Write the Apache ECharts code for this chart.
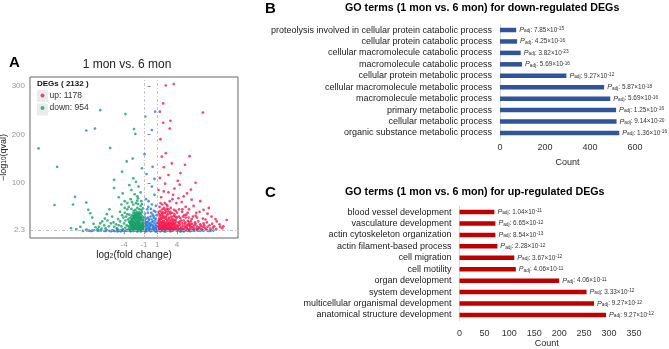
<!DOCTYPE html>
<html>
<head>
<meta charset="utf-8">
<script src="https://cdn.jsdelivr.net/npm/echarts@6/dist/echarts.min.js"></script>
<style>
html, body { margin: 0; padding: 0; background: #fff; }
#chart { width: 669px; height: 349px; }
</style>
</head>
<body>
<div id="chart"></div>
<script>
var FONT = 'Liberation Sans, Arial, sans-serif';

/* panel A: volcano points [log2FC, -log10(qval)] */
var upCount = 1178;
var downCount = 954;
var degTotal = 2132;

var upPts = [
    [2.3,301],[3.5,304],[1.4,247],[1.9,264],[3.0,228],[2.9,212],[1.9,224],[7.9,245],[5.9,155],[2.3,161],
    [1.7,154],[5.2,137],[2.7,116],[4.5,120],[1.2,85],[5.5,78],[8.0,44],[10.0,20],[11.5,23],[1.4,110],
    [2.2,98],[4.4,96],[3.6,88],[6.1,86],[2.7,80],[5.0,72],[1.6,70],[3.3,66],[7.5,62],[4.7,60],
    [2.4,55],[6.5,52],[8.8,48],[1.8,45],[3.8,42],[7.4,40],[5.6,38],[9.2,30],[8.5,18],[9.6,10],
    [10.8,6],[7.9,26],[6.8,32],[8.1,12],[9.0,5],[6.2,65],[4.1,104],[2.0,132],[3.2,140],[1.5,190],
    [6.8,100],[7.2,20],[6.0,14],[5.3,28],[4.8,45],[3.9,58],[10.4,14],[11.0,10],[9.8,25],[8.6,36],
    [1.1,4],[1.2,10],[1.2,22],[1.3,6],[1.3,15],[1.4,31],[1.4,3],[1.5,12],[1.5,42],[1.6,7],
    [1.6,19],[1.7,4],[1.7,26],[1.8,10],[1.8,36],[1.9,14],[1.9,5],[2.0,21],[2.0,48],[2.1,8],
    [2.1,30],[2.2,4],[2.2,16],[2.3,11],[2.3,40],[2.4,6],[2.4,24],[2.5,14],[2.5,33],[2.6,4],
    [2.6,19],[2.7,9],[2.7,45],[2.8,13],[2.8,28],[2.9,5],[2.9,21],[3.0,10],[3.0,36],[3.1,16],
    [3.2,6],[3.2,26],[3.3,12],[3.4,4],[3.4,20],[3.5,31],[3.6,9],[3.7,15],[3.8,5],[3.8,24],
    [3.9,11],[4.0,38],[4.1,7],[4.2,18],[4.3,4],[4.4,13],[4.5,27],[4.6,8],[4.8,16],[4.9,5],
    [5.0,22],[5.2,10],[5.4,34],[5.5,6],[5.7,14],[5.9,4],[6.1,20],[6.3,9],[6.6,12],[6.9,5],
    [7.3,8],[7.7,4],[8.2,7],[1.35,50],[1.75,55],[2.15,58],[2.55,52],[3.05,48],[3.55,44],[1.25,35],
    [1.65,38],[2.45,46],[2.85,3],[3.25,38],[3.75,30],[4.25,30],[4.75,40],[1.45,24],[1.95,28],[2.35,18],
    [2.75,16],[3.15,3],[3.65,22],[4.05,12],[4.45,20],[1.55,16],[2.05,12],[2.65,36],[3.45,14],[5.25,18],
    [5.75,28],[6.4,30],[1.15,18],[1.85,20],[2.25,26],
    [1.15,8],[1.25,13],[1.35,3],[1.35,20],[1.45,9],[1.55,5],[1.55,27],[1.65,12],[1.75,8],[1.75,17],
    [1.85,4],[1.85,31],[1.95,10],[2.05,6],[2.05,18],[2.15,13],[2.15,37],[2.25,8],[2.35,4],[2.35,29],
    [2.45,11],[2.55,7],[2.55,22],[2.65,14],[2.75,5],[2.75,26],[2.85,10],[2.95,16],[2.95,40],[3.05,7],
    [3.15,12],[3.15,30],[3.25,18],[3.35,8],[3.45,24],[3.55,5],[3.55,16],[3.65,11],[3.75,7],[3.85,19],
    [3.95,4],[3.95,28],[4.15,10],[4.35,16],[4.55,6],[4.65,22],[4.85,11],[5.05,4],[5.15,15],[5.45,9],
    [5.65,21],[5.85,11],[6.05,6],[6.25,15],[6.5,4],[6.7,18],[7.0,10],[7.5,14],[7.9,9],[8.4,4],
    [8.9,12],[9.4,7],[9.9,4],[10.5,9],[1.3,26],[1.6,33],[1.9,39],[2.2,44],[2.6,41],[3.1,23],
    [3.6,35],[4.3,45],[5.1,33],[5.8,45],[1.2,40],[1.5,58],[2.9,62],[4.2,68],[3.4,75],[2.0,82],
    [5.3,8],[5.6,3],[6.0,10],[6.5,7],[6.8,15],[7.1,4],[7.6,11],[8.0,16],[8.3,24],[7.0,28],
    [6.2,25],[5.5,13],[4.7,3],[4.9,30],[5.8,18],[7.4,6],[8.6,9],[9.3,15],[6.9,38],[5.3,50]
];

var downPts = [
    [-16.9,171],[-14.1,133],[-14.5,54],[-11.4,71],[-11.7,55],[-9.7,208],[-8.4,212],[-7.6,250],[-6.1,172],[-3.8,242],
    [-2.5,211],[-2.3,201],[-3.6,144],[-2.7,150],[-1.3,130],[-4.3,123],[-2.6,109],[-5.5,106],[-5.5,89],[-4.2,78],
    [-9.7,59],[-9.1,37],[-7.6,16],[-9.4,44],[-10.6,9],[-9.7,3],[-2.2,102],[-3.2,95],[-1.8,92],[-2.9,85],
    [-4.8,70],[-1.5,80],[-2.0,72],[-3.0,66],[-6.2,45],[-8.8,28],[-10.1,18],[-12.0,6],[-11.2,4],[-8.3,8],
    [-7.0,12],[-6.5,22],[-5.8,30],[-5.2,14],[-4.9,25],[-4.6,40],[-4.4,55],[-3.9,62],[-6.8,6],[-5.5,9],
    [-8.0,4],[-7.3,20],[-6.0,16],[-3.5,58],[-1.4,62],[-1.9,68],[-2.4,76],
    [-3.3,4],[-3.2,9],[-3.1,15],[-3.0,6],[-3.0,21],[-2.9,11],[-2.9,30],[-2.8,4],[-2.8,16],[-2.7,8],
    [-2.7,25],[-2.6,13],[-2.6,38],[-2.5,5],[-2.5,19],[-2.4,10],[-2.4,28],[-2.3,4],[-2.3,15],[-2.3,44],
    [-2.2,8],[-2.2,22],[-2.1,12],[-2.1,33],[-2.0,5],[-2.0,18],[-2.0,48],[-1.9,9],[-1.9,26],[-1.8,14],
    [-1.8,4],[-1.8,37],[-1.7,7],[-1.7,20],[-1.6,11],[-1.6,30],[-1.5,5],[-1.5,16],[-1.5,52],[-1.4,9],
    [-1.4,24],[-1.3,13],[-1.3,4],[-1.3,40],[-1.2,7],[-1.2,18],[-1.1,11],[-1.1,28],[-1.1,5],[-3.4,24],
    [-3.2,34],[-2.9,46],[-2.6,55],[-2.2,58],[-1.7,45],[-1.9,56],[-2.4,36],[-2.7,3],[-2.1,7],[-1.6,3],
    [-1.9,15],[-2.5,9],[-2.8,12],[-3.1,18],[-2.35,24],[-2.05,28],[-1.75,33],[-1.45,36],[-1.25,24],[-1.15,47],
    [-3.6,12],[-3.8,7],[-4.0,16],[-4.2,4],[-3.7,30],[-4.4,10],[-4.6,20],[-3.9,38],[-3.5,45],[-2.75,20],
    [-2.45,14],[-2.15,17],[-1.85,22],[-1.55,8],[-1.35,15],[-1.65,26],[-1.95,32],[-2.25,38],[-2.55,31],[-2.85,25],
    [-3.35,10],[-3.25,19],[-3.15,27],[-3.05,3],[-2.95,16],[-2.85,7],[-2.75,33],[-2.65,5],[-2.65,21],[-2.55,11],
    [-2.55,42],[-2.45,3],[-2.45,26],[-2.35,8],[-2.35,33],[-2.25,13],[-2.15,5],[-2.15,27],[-2.05,9],[-2.05,40],
    [-1.95,3],[-1.95,19],[-1.85,12],[-1.85,29],[-1.75,6],[-1.75,16],[-1.65,10],[-1.65,36],[-1.55,4],[-1.55,21],
    [-1.45,13],[-1.45,28],[-1.35,6],[-1.35,32],[-1.25,10],[-1.25,3],[-1.15,14],[-1.15,22],[-1.05,8],[-1.05,16],
    [-3.0,12],[-2.7,14],[-2.4,18],[-2.1,22],[-1.8,25],[-1.5,27],[-2.9,20],[-2.6,28],[-2.3,31],[-2.0,35],
    [-1.7,39],[-1.4,44],[-3.5,35],[-3.3,50],[-2.8,60],[-2.0,63],[-1.3,56],[-4.1,28],[-4.8,12],[-5.1,6],
    [-3.8,22],[-5.0,4],[-5.6,18],[-6.3,10],[-6.9,26],[-7.8,9],[-8.6,15],[-4.3,33],[-3.9,48],[-6.6,35],
    [-7.4,5]
];

var nsPts = [
    [-0.8,237],[0.2,209],[-0.9,159],[0.3,133],[0.7,247],[0.2,92],[-0.6,118],[0.6,75],[-0.3,62],[0.8,52],
    [-0.5,45],[0.1,38],[0.9,33],[-0.9,30],[0.5,27],[-0.3,22],[0.2,18],[-0.7,15],[0.8,12],[-0.1,10],
    [0.4,8],[-0.5,6],[0.6,4],[-0.2,4],[0.0,14],[-0.8,20],[0.7,22],[-0.4,28],[0.3,34],[-0.6,10],
    [0.9,6],[-0.95,4],[0.35,12],[-0.15,17],
    [-0.9,8],[-0.7,4],[-0.5,12],[-0.3,8],[-0.1,5],[0.1,12],[0.3,5],[0.5,9],[0.7,6],[0.9,10],
    [-0.8,13],[-0.6,18],[-0.2,25],[0.4,20],[0.6,16],[0.8,26],[-0.9,24],[0.0,30],[-0.4,38],[0.5,42],
    [0.2,55],[-0.7,66],[0.6,108],
    [-0.85,36],[-0.45,18],[-0.25,14],[0.15,24],[0.45,31],[0.75,40],[0.95,17],[-0.65,26],[0.05,46],[-0.35,50],
    [-10.2,0.5],[-9.6,1.5],[-9.0,0.2],[-8.5,1.8],[-8.0,0.6],[-7.5,1.2],[-7.0,0.3],[-6.6,1.9],[-6.2,0.8],[-5.8,1.4],
    [-5.4,0.2],[-5.0,2.0],[-4.7,0.9],[-4.4,1.6],[-4.1,0.4],[-3.8,1.1],[-3.5,2.1],[-3.2,0.6],[-2.9,1.5],[-2.6,0.2],
    [-2.3,1.8],[-2.0,0.7],[-1.7,1.3],[-1.4,0.3],[-1.1,2.0],[-0.8,1.0],[-0.5,0.4],[-0.2,1.7],[0.1,0.8],[0.4,1.4],
    [0.7,0.2],[1.0,1.9],[1.3,0.6],[1.6,1.2],[1.9,0.3],[2.2,2.0],[2.5,0.9],[2.8,1.5],[3.1,0.4],[3.4,1.1],
    [3.7,2.1],[4.0,0.6],[4.3,1.6],[4.6,0.2],[4.9,1.3],[5.2,0.8],[5.5,1.9],[5.8,0.4],[6.2,1.2],[6.6,0.7],
    [7.0,1.6],[7.5,0.3],[8.0,1.0],[8.5,1.8],[9.0,0.5],[9.5,1.2],[-3.0,-0.5],[-1.5,-0.6],[0.0,-0.3],[1.5,-0.5],
    [3.0,-0.4],[-4.5,-0.3],[4.5,-0.6],[-6.0,-0.4],[6.0,-0.2],
    [-8.8,0.9],[-7.8,1.5],[-6.8,0.5],[-5.6,1.0],[-4.9,0.5],[-4.2,1.9],[-3.6,0.8],[-3.0,1.9],[-2.4,0.9],[-1.9,1.8],
    [-1.2,0.8],[-0.6,1.9],[0.2,2.1],[0.8,0.9],[1.4,1.8],[2.0,0.7],[2.6,1.8],[3.2,1.0],[3.9,1.8],[4.4,0.9],
    [5.0,0.3],[5.6,1.1],[6.4,1.9],[7.2,0.8],[7.8,1.9],[8.7,0.3],[-9.3,1.0],[9.2,1.7],[-2.0,-1.0],[2.2,-1.1],
    [-0.8,-0.9],[0.8,-1.0],[-5.0,-0.8],[5.0,-0.8]
];

var volXTicks = [-4, -1, 1, 4];
var volYTicks = [2.3, 100, 200, 300];

/* panel B: GO terms for down-regulated DEGs (top to bottom) */
var downCats = [
    'proteolysis involved in cellular protein catabolic process',
    'cellular protein catabolic process',
    'cellular macromolecule catabolic process',
    'macromolecule catabolic process',
    'cellular protein metabolic process',
    'cellular macromolecule metabolic process',
    'macromolecule metabolic process',
    'primary metabolic process',
    'cellular metabolic process',
    'organic substance metabolic process'
];
var downCounts = [72, 76, 92, 98, 295, 463, 490, 516, 518, 530];
var downMant = ['7.85', '4.25', '3.82', '5.69', '9.27', '5.87', '5.69', '1.25', '9.14', '1.36'];
var downExp = ['-15', '-16', '-23', '-16', '-12', '-18', '-16', '-16', '-20', '-16'];

/* panel C: GO terms for up-regulated DEGs (top to bottom) */
var upCats = [
    'blood vessel development',
    'vasculature development',
    'actin cytoskeleton organization',
    'actin filament-based process',
    'cell migration',
    'cell motility',
    'organ development',
    'system development',
    'multicellular organismal development',
    'anatomical structure development'
];
var upCounts = [70, 72, 72, 76, 110, 113, 200, 255, 270, 294];
var upMant = ['1.04', '6.65', '8.54', '2.28', '3.67', '4.06', '4.06', '3.33', '9.27', '9.27'];
var upExp = ['-11', '-12', '-13', '-12', '-12', '-11', '-11', '-12', '-12', '-12'];

var chart = echarts.init(document.getElementById('chart'));

function padj(mant, exp) {
    return '{p|P}{s|adj}{t|: ' + mant + '\u00d710}{e|' + exp + '}';
}

var padjRich = {
    p: { fontFamily: FONT, fontStyle: 'italic', fontSize: 7.2, color: '#333' },
    s: { fontFamily: FONT, fontSize: 4.8, color: '#333', verticalAlign: 'bottom' },
    t: { fontFamily: FONT, fontSize: 6.4, color: '#333' },
    e: { fontFamily: FONT, fontSize: 4.8, color: '#333', verticalAlign: 'top' }
};

function catAxis(idx, cats) {
    return {
        type: 'category', gridIndex: idx, data: cats, inverse: true,
        axisLine: { show: true, lineStyle: { color: '#d9d9d9', width: 1 } },
        axisTick: { show: false },
        axisLabel: { fontFamily: FONT, fontSize: 9, color: '#1a1a1a', margin: 8, interval: 0 },
        splitLine: { show: false }
    };
}

function countAxis(idx, max, interval, margin, gap) {
    return {
        type: 'value', gridIndex: idx, min: 0, max: max, interval: interval,
        name: 'Count', nameLocation: 'middle', nameGap: gap,
        nameTextStyle: { fontFamily: FONT, fontSize: 9, color: '#222' },
        axisLine: { show: false }, axisTick: { show: false },
        axisLabel: { fontFamily: FONT, fontSize: 9, color: '#333', margin: margin },
        splitLine: { show: false }
    };
}

var option = {
    animation: false,
    backgroundColor: '#fff',
    grid: [
        { left: 30, top: 77, width: 208, height: 161, show: true, backgroundColor: '#fff',
          borderColor: '#666', borderWidth: 1, outerBoundsMode: 'none' },
        { left: 500, top: 24.3, width: 135, height: 114.4, outerBoundsMode: 'none' },
        { left: 459.5, top: 206.3, width: 174.4, height: 114.4, outerBoundsMode: 'none' }
    ],
    xAxis: [
        {
            type: 'value', gridIndex: 0, min: -18.2, max: 13.2,
            name: 'log{sub|2}(fold change)', nameLocation: 'middle', nameGap: 11,
            nameTextStyle: { fontFamily: FONT, fontSize: 10, color: '#222',
                rich: { sub: { fontFamily: FONT, fontSize: 7, color: '#222', verticalAlign: 'bottom' } } },
            axisLine: { show: false },
            axisTick: { show: true, length: 3, lineStyle: { color: '#888' }, customValues: volXTicks },
            axisLabel: { fontFamily: FONT, fontSize: 8, color: '#999', margin: 3, customValues: volXTicks },
            splitLine: { show: false }
        },
        countAxis(1, 600, 200, 4, 19),
        countAxis(2, 350, 50, 8, 18)
    ],
    yAxis: [
        {
            type: 'value', gridIndex: 0, min: -14.2, max: 318.6,
            name: '\u2212log{sub|10}(qval)', nameLocation: 'middle', nameGap: 18, nameRotate: 90,
            nameTextStyle: { fontFamily: FONT, fontSize: 9, color: '#222',
                rich: { sub: { fontFamily: FONT, fontSize: 6.5, color: '#222', verticalAlign: 'bottom' } } },
            axisLine: { show: false },
            axisTick: { show: true, length: 3, lineStyle: { color: '#888' }, customValues: volYTicks },
            axisLabel: { fontFamily: FONT, fontSize: 8, color: '#999', margin: 5, customValues: volYTicks },
            splitLine: { show: false }
        },
        catAxis(1, downCats),
        catAxis(2, upCats)
    ],
    legend: {
        data: ['up', 'down'], orient: 'vertical', left: 40.5, top: 91, z: 10, padding: 0,
        icon: 'circle', itemWidth: 4, itemHeight: 4, itemGap: 3.5, selectedMode: false,
        textStyle: { fontFamily: FONT, fontSize: 8.5, color: '#333' },
        formatter: function (name) {
            return name + ': ' + (name === 'up' ? upCount : downCount);
        }
    },
    graphic: [
        { type: 'rect', z: 5, shape: { x: 37, y: 90, width: 11, height: 12 }, style: { fill: '#ebebeb' } },
        { type: 'rect', z: 5, shape: { x: 37, y: 103.5, width: 11, height: 12 }, style: { fill: '#ebebeb' } },
        { type: 'text', z: 10, x: 37, y: 83.5,
          style: { text: 'DEGs ( ' + degTotal + ' )', font: 'bold 8px ' + FONT, fill: '#111', textVerticalAlign: 'middle' } },
        { type: 'text', x: 9, y: 63,
          style: { text: 'A', font: 'bold 15px ' + FONT, fill: '#000', textVerticalAlign: 'middle' } },
        { type: 'text', x: 265, y: 9,
          style: { text: 'B', font: 'bold 15px ' + FONT, fill: '#000', textVerticalAlign: 'middle' } },
        { type: 'text', x: 265, y: 193,
          style: { text: 'C', font: 'bold 15px ' + FONT, fill: '#000', textVerticalAlign: 'middle' } },
        { type: 'text', x: 127, y: 65,
          style: { text: '1 mon vs. 6 mon', font: '12px ' + FONT, fill: '#222', textAlign: 'center', textVerticalAlign: 'middle' } },
        { type: 'text', x: 345, y: 8,
          style: { text: 'GO terms (1 mon vs. 6 mon) for down-regulated DEGs', font: 'bold 10.7px ' + FONT, fill: '#000', textVerticalAlign: 'middle' } },
        { type: 'text', x: 345, y: 192,
          style: { text: 'GO terms (1 mon vs. 6 mon) for up-regulated DEGs', font: 'bold 10.7px ' + FONT, fill: '#000', textVerticalAlign: 'middle' } }
    ],
    series: [
        {
            name: 'ns', type: 'scatter', xAxisIndex: 0, yAxisIndex: 0, data: nsPts,
            symbolSize: 2.7, itemStyle: { color: '#2b7bd8' }, silent: true,
            markLine: {
                silent: true, symbol: ['none', 'none'], label: { show: false },
                lineStyle: { color: '#b5b5b5', width: 0.8, type: [3, 2, 1, 2] },
                data: [{ xAxis: -1 }, { xAxis: 1 }, { yAxis: 2.3 }]
            }
        },
        {
            name: 'down', type: 'scatter', xAxisIndex: 0, yAxisIndex: 0, data: downPts,
            symbolSize: 2.7, itemStyle: { color: '#16a06a' }, silent: true
        },
        {
            name: 'up', type: 'scatter', xAxisIndex: 0, yAxisIndex: 0, data: upPts,
            symbolSize: 2.7, itemStyle: { color: '#f5194f' }, silent: true
        },
        {
            name: 'downGO', type: 'bar', xAxisIndex: 1, yAxisIndex: 1, data: downCounts,
            barWidth: 4.5, itemStyle: { color: '#2f549c' }, silent: true,
            label: {
                show: true, position: 'right', distance: 3, rich: padjRich,
                formatter: function (p) { return padj(downMant[p.dataIndex], downExp[p.dataIndex]); }
            }
        },
        {
            name: 'upGO', type: 'bar', xAxisIndex: 2, yAxisIndex: 2, data: upCounts,
            barWidth: 4.5, itemStyle: { color: '#c00000' }, silent: true,
            label: {
                show: true, position: 'right', distance: 3, rich: padjRich,
                formatter: function (p) { return padj(upMant[p.dataIndex], upExp[p.dataIndex]); }
            }
        }
    ]
};

chart.setOption(option);
</script>
</body>
</html>
